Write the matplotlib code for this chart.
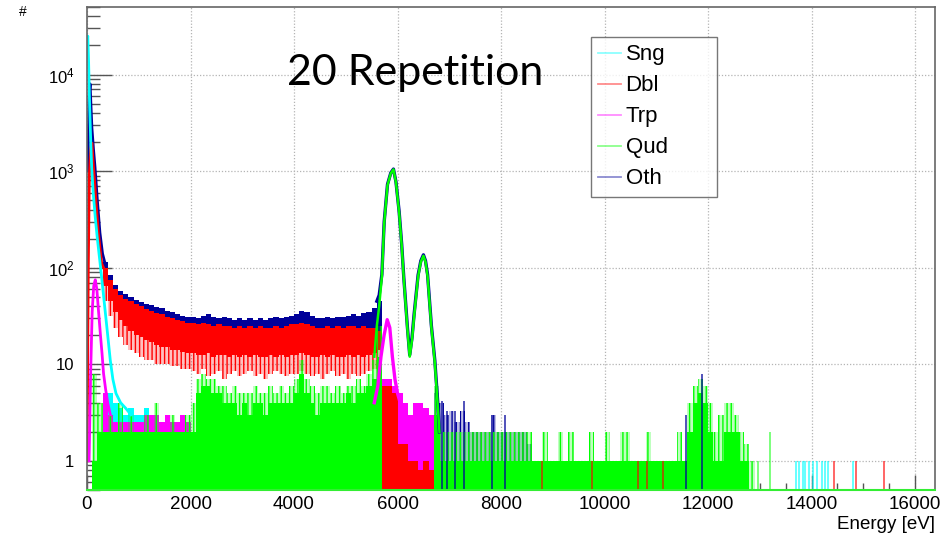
import numpy as np
import matplotlib
matplotlib.use("Agg")
import matplotlib.pyplot as plt
from matplotlib.lines import Line2D
from matplotlib.ticker import MultipleLocator, LogLocator, FuncFormatter, NullFormatter

plt.rcParams['font.family'] = ['Liberation Sans', 'DejaVu Sans']
plt.rcParams['mathtext.fontset'] = 'custom'
plt.rcParams['mathtext.rm'] = 'Liberation Sans'
plt.rcParams['mathtext.it'] = 'Liberation Sans:italic'
plt.rcParams['hatch.linewidth'] = 1.0

# --- colours (ROOT-like) ---
SNG = '#00ffff'
DBL = '#ff0000'
TRP = '#ff00ff'
QUD = '#00ff00'
OTH = '#000099'

BIN = 100  # eV, width of the coarse bins used for the noisy bands

# --- low-energy decays: energy [eV], counts ---
sng_decay_e = [0, 15, 30, 50, 70, 90, 120, 160, 200, 250, 300, 350, 400, 450, 500, 560, 650, 750, 850]
sng_decay_n = [20000, 25000, 14000, 5000, 2200, 1100, 600, 330, 200, 115, 65, 36, 20, 11, 7, 5, 4, 3.5, 3]
dbl_decay_e = [0, 25, 45, 70, 95, 120, 155, 185, 220, 250, 285, 320]
dbl_decay_n = [1, 100, 900, 1700, 1950, 1200, 680, 400, 230, 160, 110, 100]
trp_decay_e = [40, 70, 100, 130, 160, 190, 220, 260, 290, 320, 360, 400, 450]
trp_decay_n = [1, 8, 35, 65, 75, 60, 37, 20, 13, 8, 5.5, 4, 3]
oth_decay_e = [20, 40, 60, 75, 95, 125, 155, 200, 250, 300, 350]
oth_decay_n = [1000, 6000, 8000, 5000, 2800, 1700, 1100, 500, 230, 140, 110]

# --- continuum band 300-5700 eV (100 eV bins) ---
band_start = 300
dbl_hi = [100, 75, 60, 52, 48, 45, 42,
          40, 37, 36, 34, 33, 31, 30, 29, 28, 27,
          27, 26, 27, 26, 25, 26, 25, 25, 24, 25,
          24, 25, 24, 25, 24, 24, 25, 24, 25, 26,
          26, 27, 26, 25, 24, 24, 25, 24, 25, 24,
          25, 25, 24, 25, 24, 24, 22]
dbl_lo = [65, 45, 35, 29, 25, 22, 20,
          19, 18, 17, 16, 15, 15, 14, 14, 13.5, 13,
          13, 12.5, 12.5, 13, 12, 12.5, 12.5, 12, 12.5, 12,
          12.5, 12, 12.5, 12, 12, 12.5, 12, 12.5, 12, 12.5,
          12.5, 13, 12.5, 12, 12, 12.5, 12, 12.5, 12, 12,
          12.5, 12, 12.5, 12, 12.5, 13, 14]
dbl_spike = [45, 32, 24, 19, 16, 14, 13,
             12, 11, 11, 10, 10, 10, 9.5, 9.5, 9, 9,
             8.5, 8, 9, 7.5, 8, 8.5, 7, 8, 8.5, 7.5,
             8, 8.5, 7.5, 8, 7, 8, 8.5, 8, 7.5, 8,
             8, 8.5, 8, 7.5, 8, 7, 8, 8.5, 7.5, 8,
             7, 8, 7.5, 8, 8.5, 9, 10]
oth_hi = [115, 85, 66, 58, 53, 50, 46,
          44, 42, 41, 39, 38, 36, 35, 33, 32, 31,
          31, 30, 32, 33, 31, 30, 31, 30, 29, 30,
          29, 30, 29, 30, 29, 30, 31, 30, 31, 32,
          33, 36, 35, 32, 30, 30, 31, 30, 31, 31,
          32, 33, 32, 34, 35, 38, 45]

# --- low-count floor 100-5700 eV ---
qud_start = 100
qud_dense = [1, 2, 2, 2, 2, 2, 2, 2, 2, 2,
             2, 2, 2, 2, 2, 2, 2, 2, 2, 2,
             5, 6, 6, 5, 5, 4, 4, 4, 3, 4,
             3, 4, 4, 3, 4, 4, 4, 4, 4, 5,
             8, 5, 4, 3, 4, 4, 4, 4, 4, 5,
             4, 5, 5, 6, 7, 12]
qud_spike = [8, 4, 2, 3, 2, 4, 2, 3, 2, 2,
             3, 2, 4, 2, 2, 3, 2, 2, 3, 4,
             7, 8, 7, 7, 6, 6, 5, 6, 5, 5,
             5, 6, 5, 5, 6, 5, 6, 5, 6, 7,
             11, 7, 6, 5, 6, 6, 5, 6, 5, 6,
             6, 7, 6, 8, 11, 25]
trp_start = 300
trp_fill = [5, 3, 2.5, 2.5, 2.5, 2.5, 2.5, 2.5, 3, 3,
            3, 2.5, 3, 2.5, 2.5, 3, 2.5, 2,
            2, 2, 2, 2, 2, 2, 2, 2, 2, 2,
            2, 2, 2, 2, 2, 2, 2, 2, 2, 2,
            3, 2, 2, 2, 2, 2, 2, 2, 2, 2,
            2, 2, 2, 3, 4, 5]
sng_start = 400
sng_fill = [5, 4, 3.5, 3, 3.5, 3, 3, 3.5, 3, 2.5, 2.5, 2]

# --- peak region 5600-6800 eV ---
qud_peak_e = [5550, 5600, 5645, 5697, 5742, 5806, 5870, 5921, 5970, 6031, 6080, 6120, 6191, 6235,
              6280, 6320, 6397, 6450, 6500, 6540, 6580, 6654, 6720, 6785, 6810]
qud_peak_n = [12, 25, 40, 81, 290, 717, 950, 1042, 760, 370, 170, 78, 23, 12,
              18, 31.5, 81, 115, 133, 115, 82, 24, 10.5, 3.2, 2]
oth_peak_e = [5600, 5645, 5697, 5742, 5806, 5870, 5921, 5970, 6031, 6080, 6120, 6191, 6235,
              6280, 6320, 6397, 6450, 6500, 6540, 6580, 6654, 6720, 6785, 6810]
oth_peak_n = [45, 52, 85, 300, 730, 960, 1050, 770, 380, 175, 80, 24, 12.5,
              19, 33, 84, 118, 136, 118, 85, 25, 11, 3.5, 2]
trp_peak_e = [5550, 5620, 5680, 5740, 5800, 5850, 5900, 5950, 6000, 6050]
trp_peak_n = [4, 6, 12, 20, 29, 24, 12, 7, 5, 4]
trp_floor_start = 5700
trp_floor = [7, 7, 6, 5, 4, 3, 4, 4, 3.5, 3, 1.5]
dbl_floor_start = 5600
dbl_floor = [3, 6, 6, 5, 1.5, 1.5, 1, 1, 0.8, 1, 0.8]

# --- high-energy tail 6700-12900 eV ---
tail_start = 6700
qud_tail_dense = [3,
                  1, 1, 1, 1, 1, 1, 1, 1, 1, 1, 1, 1, 1, 1, 1, 1, 1, 1,
                  1, 1, 1, 1, 1, 1, 1, 1, 1, 1, 1, 1, 1, 1, 1,
                  1, 1, 1, 1, 1, 1, 1, 1, 1, 1, 1, 1, 1, 1, 1,
                  2, 4, 5, 4, 2, 1, 1, 2, 2, 2, 1, 1, 0.5]
qud_tail_spike = [6,
                  2, 2, 2, 2, 2, 2, 2, 2, 2, 2, 2, 2, 2, 2, 2, 2, 2, 2,
                  1, 1, 2, 1, 1, 2, 1, 2, 1, 1, 1, 2, 1, 1, 2,
                  1, 1, 2, 2, 1, 1, 1, 2, 1, 1, 1, 1, 1, 2, 1,
                  4, 6, 7, 6, 4, 2, 3, 4, 4, 3, 2, 1.5, 1]
oth_tail = [5, 4, 3, 3.3, 2.5, 3.3, 2.5, 2, 2, 2, 2, 3, 2, 2, 2, 2, 2, 2, 1.5]

# --- isolated single-bin entries: energy [eV], counts ---
oth_lines_e = [6860, 6960, 7110, 7280, 7830, 8080, 11580, 11880]
oth_lines_n = [4.2, 3.3, 3.3, 4.2, 3, 3, 3, 8]
sng_lines_e = [13700, 13760, 13830, 13880, 13950, 14020, 14100, 14200, 14260, 14320, 14800]
dbl_lines_e = [8800, 9750, 10650, 10810, 11130, 14430, 14860, 15390]
qud_lines_e = [12970, 13190]
qud_lines_n = [1, 2]

legend_labels = ['Sng', 'Dbl', 'Trp', 'Qud', 'Oth']
legend_colors = [SNG, DBL, TRP, QUD, OTH]

FLOOR = 0.4  # just below the visible axis minimum


def edges_for(start, values):
    return start + BIN * np.arange(len(values) + 1)


def band(ax, start, hi, lo=FLOOR, **kw):
    ax.stairs(hi, edges_for(start, hi), baseline=lo, fill=True, lw=0, **kw)


def spikes(ax, start, hi, lo, color, hatch='||||'):
    """Sparse single-bin spikes: faint fill plus vertical hatching."""
    edges = edges_for(start, hi)
    ax.stairs(hi, edges, baseline=lo, fill=True, lw=0, color=color, alpha=0.25)
    ax.stairs(hi, edges, baseline=lo, fill=True, lw=0, facecolor='none',
              edgecolor=color, hatch=hatch)


def main():
    fig = plt.figure(figsize=(9.45, 5.34), dpi=100)
    ax = fig.add_axes([87 / 945, 1 - 490 / 534, (935 - 87) / 945, (490 - 7) / 534])

    # Oth band and tail (drawn first, lowest)
    band(ax, band_start, oth_hi, lo=dbl_lo, color=OTH)
    spikes(ax, tail_start, oth_tail, [FLOOR] * len(oth_tail), OTH)

    # Sng floor
    band(ax, sng_start, sng_fill, color=SNG)

    # Trp floor
    band(ax, trp_start, trp_fill, color=TRP)
    band(ax, trp_floor_start, trp_floor, color=TRP)

    # Dbl band
    spikes(ax, band_start, dbl_lo, dbl_spike, DBL)
    band(ax, band_start, dbl_hi, lo=dbl_lo, color=DBL)
    band(ax, dbl_floor_start, dbl_floor, color=DBL)

    # Qud floor
    spikes(ax, qud_start, qud_spike, qud_dense, QUD)
    band(ax, qud_start, qud_dense, color=QUD)
    spikes(ax, tail_start, qud_tail_spike, qud_tail_dense, QUD)
    band(ax, tail_start, qud_tail_dense, color=QUD)

    # isolated entries
    ax.vlines(oth_lines_e, FLOOR, oth_lines_n, color=OTH, lw=1.2, alpha=0.8)
    ax.vlines(sng_lines_e, FLOOR, [1] * len(sng_lines_e), color=SNG, lw=1.2, alpha=0.7)
    ax.vlines(dbl_lines_e, FLOOR, [1] * len(dbl_lines_e), color=DBL, lw=1.2, alpha=0.7)
    ax.vlines(qud_lines_e, FLOOR, qud_lines_n, color=QUD, lw=1.2, alpha=0.6)

    # peaks and decays as lines
    ax.plot(oth_peak_e, oth_peak_n, color=OTH, lw=2.4)
    ax.plot(qud_peak_e, qud_peak_n, color=QUD, lw=1.8)
    ax.plot(trp_peak_e, trp_peak_n, color=TRP, lw=2.4)
    ax.plot(oth_decay_e, oth_decay_n, color=OTH, lw=2.0)
    ax.plot(dbl_decay_e, dbl_decay_n, color=DBL, lw=2.0)
    ax.plot(trp_decay_e, trp_decay_n, color=TRP, lw=2.0)
    ax.plot(sng_decay_e, sng_decay_n, color=SNG, lw=2.0)

    # --- axes formatting ---
    ax.set_xlim(0, 16384)
    ax.set_yscale('log')
    ax.set_ylim(0.5, 5e4)
    ax.set_axisbelow(True)
    ax.xaxis.set_major_locator(MultipleLocator(2000))
    ax.xaxis.set_minor_locator(MultipleLocator(500))
    ax.yaxis.set_major_locator(LogLocator(base=10, numticks=10))
    ax.yaxis.set_minor_locator(LogLocator(base=10, subs=np.arange(2, 10), numticks=20))
    ax.yaxis.set_minor_formatter(NullFormatter())

    def ylab(v, pos):
        if v < 0.99:
            return ''
        n = int(round(np.log10(v)))
        if n == 0:
            return '1'
        if n == 1:
            return '10'
        return r'$10^{%d}$' % n
    ax.yaxis.set_major_formatter(FuncFormatter(ylab))

    tick_col = '#555555'
    ax.tick_params(axis='x', which='major', direction='in', length=10.8, width=1, color=tick_col,
                   labelsize=13.5, pad=4, top=False)
    ax.tick_params(axis='x', which='minor', direction='in', length=5.4, width=1, color=tick_col, top=False)
    ax.tick_params(axis='y', which='major', direction='in', length=18, width=1, color=tick_col,
                   labelsize=12, pad=9, right=False)
    ax.tick_params(axis='y', which='minor', direction='in', length=9, width=1, color=tick_col, right=False)
    ax.grid(True, which='major', color='#b4b4b4', linestyle=(0, (1, 1.5)), lw=0.9)

    for side in ['left', 'right', 'top']:
        ax.spines[side].set_color('#666666')
        ax.spines[side].set_linewidth(1.2)
    ax.spines['bottom'].set_color('#33ee33')
    ax.spines['bottom'].set_linewidth(1.5)

    # texts
    fig.text(935 / 945, 1 - 533 / 534, 'Energy [eV]', ha='right', va='bottom', fontsize=13.5)
    fig.text(23 / 945, 1 - 12 / 534, '#', ha='center', va='center', fontsize=10)
    fig.text(415 / 945, 1 - 73 / 534, '20 Repetition', ha='center', va='center', fontsize=31,
             family=['Lato', 'DejaVu Sans'])

    handles = [Line2D([], [], color=c, lw=1.3, alpha=0.45) for c in legend_colors]
    leg = fig.legend(handles, legend_labels, loc='upper left', mode='expand',
                     bbox_to_anchor=(590.7 / 945, 1 - 193.3 / 534, 126 / 945, 156.6 / 534),
                     borderaxespad=0, fontsize=16, frameon=True, fancybox=False,
                     edgecolor='#555555', handlelength=1.0, handletextpad=0.22,
                     labelspacing=0.45, borderpad=0.35)
    leg.get_frame().set_linewidth(1.0)

    fig.savefig('out.png', dpi=100)
    plt.close(fig)


if __name__ == '__main__':
    main()
